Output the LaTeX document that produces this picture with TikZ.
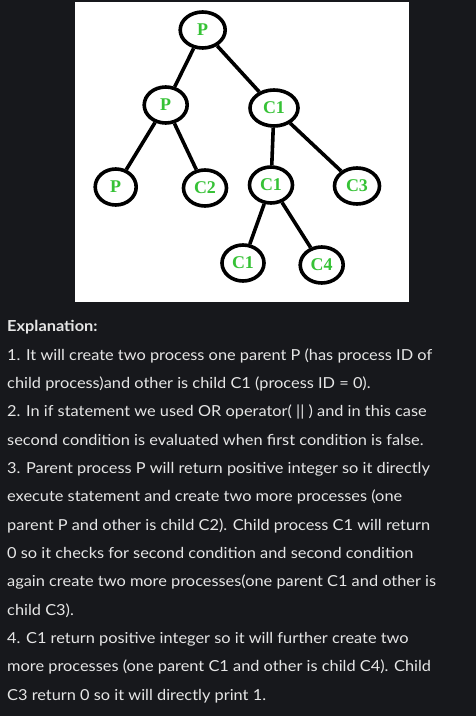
\documentclass[tikz,border=0pt]{standalone}
\usepackage{fontspec}
\setmainfont{Lato}[FakeStretch=1.08]
\newfontfamily\labelfont{Liberation Serif}
\usetikzlibrary{shapes.geometric}
\definecolor{bgdark}{HTML}{17181C}
\definecolor{txtgray}{HTML}{E6E6E6}
\definecolor{lblgreen}{HTML}{36C236}
\tikzset{
  proc/.style={ellipse, draw=black, line width=3.6bp, fill=white, text=lblgreen,
    font=\labelfont\bfseries\fontsize{18}{18}\selectfont, minimum width=#1, minimum height=36bp, inner sep=0pt},
  proc/.default=43bp,
  edge/.style={draw=black, line width=3.6bp},
  line/.style={anchor=base west, text=txtgray, font=\fontsize{15.2}{18}\selectfont, inner sep=0pt}
}
\begin{document}
\begin{tikzpicture}[x=1bp,y=-1bp]
\fill[bgdark] (0,0) rectangle (476,716);
\useasboundingbox (0,0) rectangle (476,716);
\fill[white] (75,2) rectangle (409,302);
% nodes
\node[proc=45bp] (p0) at (202.7,30) {P};
\node[proc=43bp] (p1) at (165.7,105) {P};
\node[proc=48bp] (c1a) at (274,108) {C1};
\node[proc=41bp] (p2) at (115.7,187) {P};
\node[proc=43bp] (c2) at (205,188) {C2};
\node[proc=43bp] (c1b) at (271,185) {C1};
\node[proc=45bp] (c3) at (357,186) {C3};
\node[proc=42bp] (c1c) at (243,263) {C1};
\node[proc=43bp] (c4) at (321.7,265) {C4};
% edges
\draw[edge] (p0) -- (p1);
\draw[edge] (p0) -- (c1a);
\draw[edge] (p1) -- (p2);
\draw[edge] (p1) -- (c2);
\draw[edge] (c1a) -- (c1b);
\draw[edge] (c1a) -- (c3);
\draw[edge] (c1b) -- (c1c);
\draw[edge] (c1b) -- (c4);
% text
\node[line, font=\bfseries\fontsize{15.2}{18}\selectfont] (t0) at (7,331.7) {Explanation:};
\node[line] (t1) at (7,360) {1. It will create two process one parent P (has process ID of};
\node[line] (t2) at (7,388.3) {child process)and other is child C1 (process ID = 0).};
\node[line] (t3) at (7,416.7) {2. In if statement we used OR operator( || ) and in this case};
\node[line] (t4) at (7,445) {second condition is evaluated when first condition is false.};
\node[line] (t5) at (7,473.3) {3. Parent process P will return positive integer so it directly};
\node[line] (t6) at (7,501.7) {execute statement and create two more processes (one};
\node[line] (t7) at (7,530) {parent P and other is child C2). Child process C1 will return};
\node[line] (t8) at (7,558.3) {0 so it checks for second condition and second condition};
\node[line] (t9) at (7,586.7) {again create two more processes(one parent C1 and other is};
\node[line] (t10) at (7,615) {child C3).};
\node[line] (t11) at (7,643.3) {4. C1 return positive integer so it will further create two};
\node[line] (t12) at (7,671.7) {more processes (one parent C1 and other is child C4). Child};
\node[line] (t13) at (7,700) {C3 return 0 so it will directly print 1.};
\end{tikzpicture}
\end{document}
